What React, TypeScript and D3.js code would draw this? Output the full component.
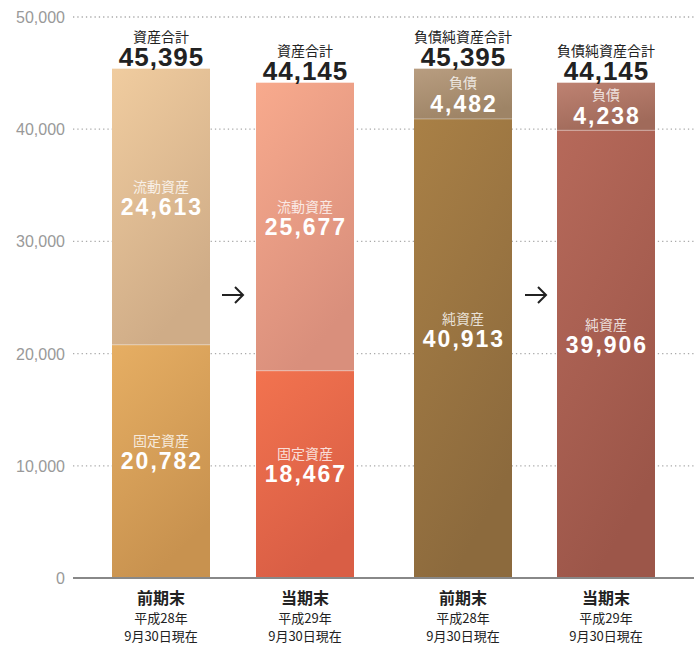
import React from "react";
import * as d3 from "d3";

const categories = ["前期末", "当期末", "前期末", "当期末"];
const subLabels1 = ["平成28年", "平成29年", "平成28年", "平成29年"];
const subLabels2 = ["9月30日現在", "9月30日現在", "9月30日現在", "9月30日現在"];
const totalTitles = ["資産合計", "資産合計", "負債純資産合計", "負債純資産合計"];
const totals = [45395, 44145, 45395, 44145];
const bottomNames = ["固定資産", "固定資産", "純資産", "純資産"];
const bottomValues = [20782, 18467, 40913, 39906];
const topNames = ["流動資産", "流動資産", "負債", "負債"];
const topValues = [24613, 25677, 4482, 4238];
const yTicks = [0, 10000, 20000, 30000, 40000, 50000];

const bottomColors: [string, string][] = [
  ["#E6AE63", "#C8924F"],
  ["#F2734F", "#D95E45"],
  ["#A98046", "#8C6A3D"],
  ["#B6695A", "#9C5649"],
];
const topColors: [string, string][] = [
  ["#F0CC9F", "#CFAC87"],
  ["#F8AA8D", "#D98F7C"],
  ["#B89D80", "#9E8466"],
  ["#BE8272", "#A06A5A"],
];

const W = 694;
const H = 646;
const fmt = d3.format(",");

export default function App() {
  const y = d3.scaleLinear().domain([0, 50000]).range([578, 17]);
  const xs = [112, 256, 414, 557];
  const bw = 98;
  const sans = "'Liberation Sans', Arial, sans-serif";
  const jp = "'Noto Sans CJK JP', sans-serif";

  return (
    <svg
      width={W}
      height={H}
      style={{ position: "absolute", left: 0, top: 0, background: "#fff" }}
    >
      <defs>
        {bottomColors.map((c, i) => (
          <linearGradient key={"b" + i} id={"gb" + i} x1="0" y1="0" x2="0.4" y2="1">
            <stop offset="0" stopColor={c[0]} />
            <stop offset="1" stopColor={c[1]} />
          </linearGradient>
        ))}
        {topColors.map((c, i) => (
          <linearGradient key={"t" + i} id={"gt" + i} x1="0" y1="0" x2="0.4" y2="1">
            <stop offset="0" stopColor={c[0]} />
            <stop offset="1" stopColor={c[1]} />
          </linearGradient>
        ))}
      </defs>
      {yTicks.map((t) => (
        <g key={t}>
          {t > 0 && (
            <line
              x1={73}
              x2={694}
              y1={y(t)}
              y2={y(t)}
              stroke="#aaa"
              strokeWidth={1.3}
              strokeDasharray="1.3,3"
            />
          )}
          <text
            x={65}
            y={y(t) + 6}
            textAnchor="end"
            fontFamily={sans}
            fontSize={16}
            fill="#999"
          >
            {fmt(t)}
          </text>
        </g>
      ))}
      {categories.map((c, i) => {
        const x0 = xs[i];
        const yb = y(bottomValues[i]);
        const yt = y(totals[i]);
        const y0 = y(0);
        const bMid = (yb + y0) / 2;
        const tMid = (yt + yb) / 2;
        const small = i >= 2;
        const cx = x0 + bw / 2;
        return (
          <g key={i}>
            <rect x={x0} y={yb} width={bw} height={y0 - yb} fill={`url(#gb${i})`} />
            <rect x={x0} y={yt} width={bw} height={yb - yt} fill={`url(#gt${i})`} />
            <line x1={x0} x2={x0 + bw} y1={yb} y2={yb} stroke="#fff" strokeOpacity={0.35} />
            {/* top segment labels */}
            <text x={cx} y={small ? tMid - 6 : tMid - 15} textAnchor="middle" fontFamily={jp} fontSize={14} fill="#fff" fillOpacity={0.8}>
              {topNames[i]}
            </text>
            <text x={cx + 1} y={small ? tMid + 18 : tMid + 8} textAnchor="middle" fontFamily={sans} fontWeight="bold" fontSize={23} letterSpacing={2} fill="#fff">
              {fmt(topValues[i])}
            </text>
            {/* bottom segment labels */}
            <text x={cx} y={small ? bMid - 24 : bMid - 15} textAnchor="middle" fontFamily={jp} fontSize={14} fill="#fff" fillOpacity={0.8}>
              {bottomNames[i]}
            </text>
            <text x={cx + 1} y={small ? bMid - 1 : bMid + 8} textAnchor="middle" fontFamily={sans} fontWeight="bold" fontSize={23} letterSpacing={2} fill="#fff">
              {fmt(bottomValues[i])}
            </text>
            {/* totals */}
            <text x={cx} y={yt - 27} textAnchor="middle" fontFamily={jp} fontSize={14} fill="#222">
              {totalTitles[i]}
            </text>
            <text x={cx + 0.5} y={yt - 2.5} textAnchor="middle" fontFamily={sans} fontWeight="bold" fontSize={26} letterSpacing={1} fill="#222">
              {fmt(totals[i])}
            </text>
            {/* category labels */}
            <text x={cx} y={604} textAnchor="middle" fontFamily={jp} fontWeight="bold" fontSize={16} fill="#222">
              {c}
            </text>
            <text x={cx} y={623} textAnchor="middle" fontFamily={jp} fontSize={13} fill="#222">
              {subLabels1[i]}
            </text>
            <text x={cx} y={641} textAnchor="middle" fontFamily={jp} fontSize={13} fill="#222">
              {subLabels2[i]}
            </text>
          </g>
        );
      })}
      <line x1={73} x2={694} y1={y(0)} y2={y(0)} stroke="#888" strokeWidth={2} />
      {[233, 536].map((ax) => (
        <g key={ax} stroke="#222" strokeWidth={2} fill="none">
          <line x1={ax - 11} x2={ax + 10} y1={295} y2={295} />
          <polyline points={`${ax + 2},${287} ${ax + 10},${295} ${ax + 2},${303}`} />
        </g>
      ))}
    </svg>
  );
}
